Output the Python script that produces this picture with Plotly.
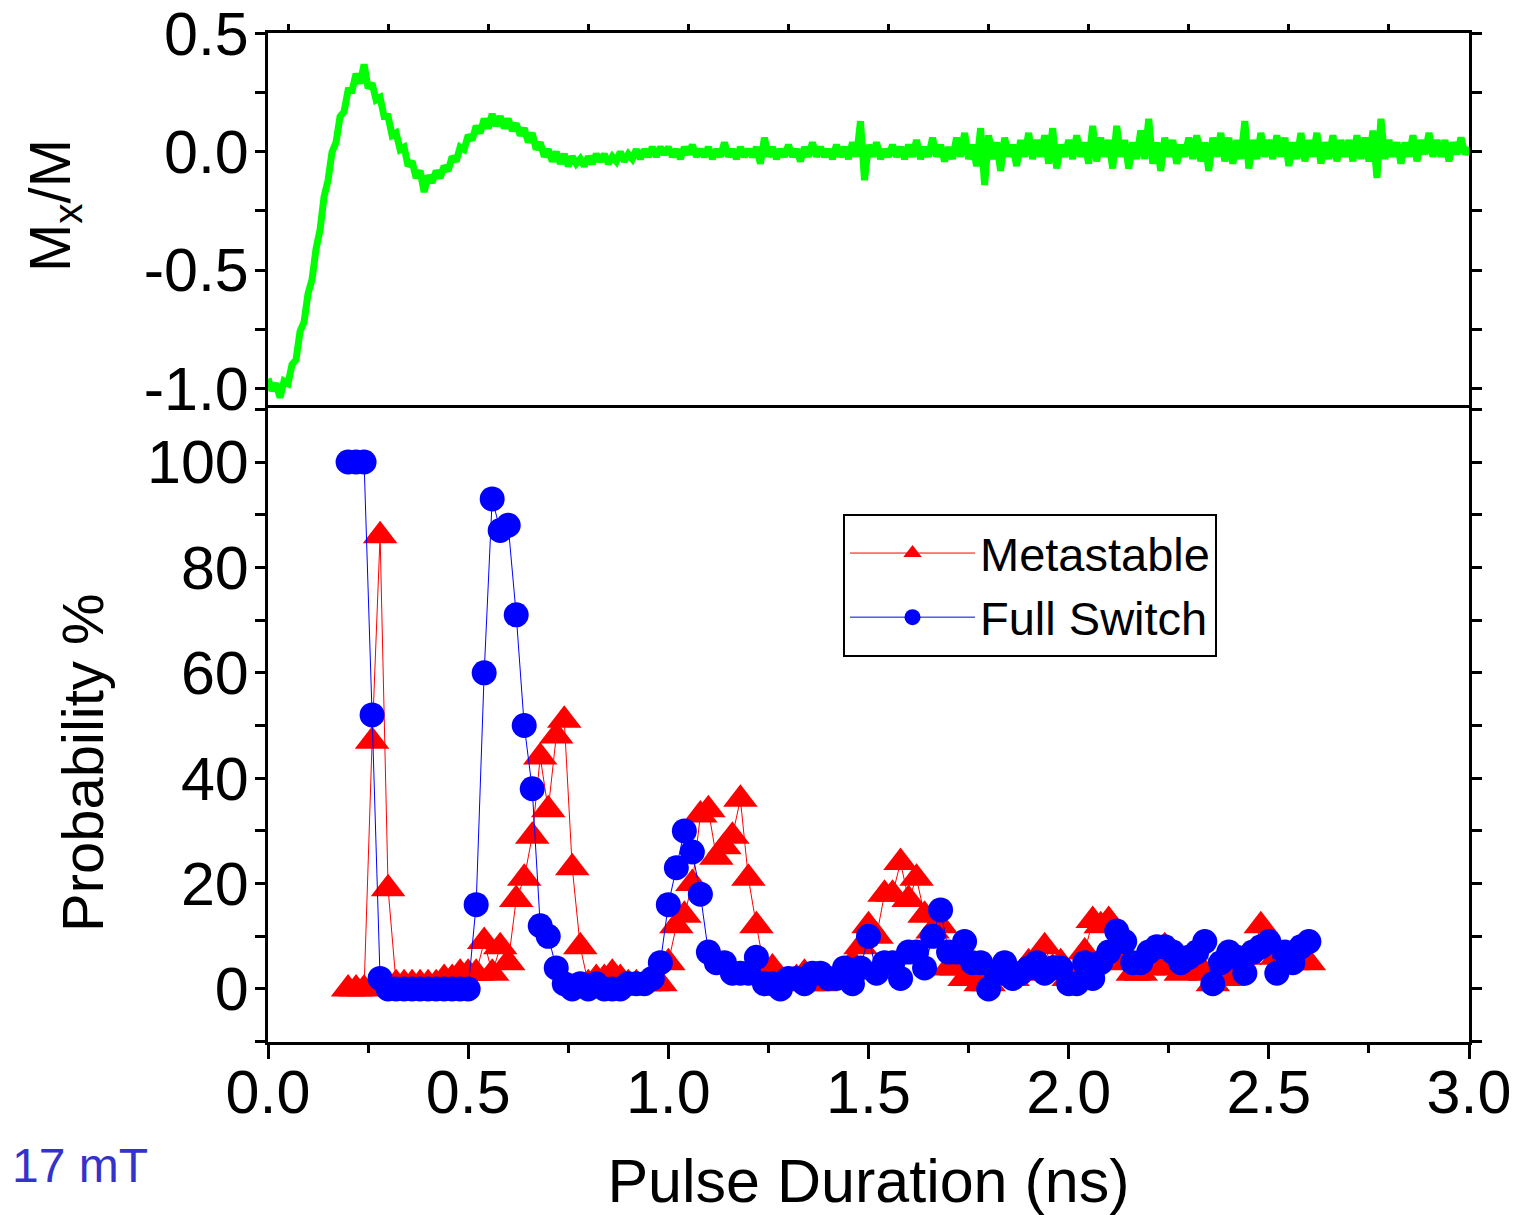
import plotly.graph_objects as go

# ---------------- data ----------------
pulse_ns = [
    0.20, 0.22, 0.24, 0.26, 0.28, 0.30, 0.32, 0.34, 0.36, 0.38,
    0.40, 0.42, 0.44, 0.46, 0.48, 0.50, 0.52, 0.54, 0.56, 0.58,
    0.60, 0.62, 0.64, 0.66, 0.68, 0.70, 0.72, 0.74, 0.76, 0.78,
    0.80, 0.82, 0.84, 0.86, 0.88, 0.90, 0.92, 0.94, 0.96, 0.98,
    1.00, 1.02, 1.04, 1.06, 1.08, 1.10, 1.12, 1.14, 1.16, 1.18,
    1.20, 1.22, 1.24, 1.26, 1.28, 1.30, 1.32, 1.34, 1.36, 1.38,
    1.40, 1.42, 1.44, 1.46, 1.48, 1.50, 1.52, 1.54, 1.56, 1.58,
    1.60, 1.62, 1.64, 1.66, 1.68, 1.70, 1.72, 1.74, 1.76, 1.78,
    1.80, 1.82, 1.84, 1.86, 1.88, 1.90, 1.92, 1.94, 1.96, 1.98,
    2.00, 2.02, 2.04, 2.06, 2.08, 2.10, 2.12, 2.14, 2.16, 2.18,
    2.20, 2.22, 2.24, 2.26, 2.28, 2.30, 2.32, 2.34, 2.36, 2.38,
    2.40, 2.42, 2.44, 2.46, 2.48, 2.50, 2.52, 2.54, 2.56, 2.58,
    2.60,
]

metastable_pct = [
    0, 0, 0, 47, 86, 19, 1, 1, 1, 1,
    1, 1, 2, 2, 3, 3, 3, 9, 3, 8,
    5, 17, 21, 29, 44, 34, 48, 51, 23, 8,
    1, 2, 2, 3, 2, 1, 1, 1, 1, 1,
    5, 12, 14, 20, 33, 34, 25, 27, 29, 36,
    21, 12, 4, 4, 2, 1, 2, 3, 1, 1,
    2, 2, 3, 5, 8, 12, 10, 18, 18, 24,
    17, 21, 14, 11, 12, 4, 4, 2, 2, 1,
    1, 3, 2, 2, 3, 5, 5, 8, 4, 5,
    2, 3, 7, 13, 12, 13, 7, 5, 3, 3,
    4, 5, 8, 4, 3, 4, 5, 3, 1, 2,
    2, 4, 6, 7, 12, 9, 6, 5, 5, 6,
    5,
]

full_switch_pct = [
    100, 100, 100, 52, 2, 0, 0, 0, 0, 0,
    0, 0, 0, 0, 0, 0, 16, 60, 93, 87,
    88, 71, 50, 38, 12, 10, 4, 1, 0, 1,
    0, 1, 0, 0, 0, 1, 1, 1, 2, 5,
    16, 23, 30, 26, 18, 7, 5, 5, 3, 3,
    3, 6, 1, 1, 0, 2, 2, 1, 3, 3,
    2, 2, 4, 1, 4, 10, 3, 5, 5, 2,
    7, 7, 4, 10, 15, 7, 7, 9, 5, 5,
    0, 3, 5, 2, 3, 4, 5, 3, 4, 4,
    1, 1, 5, 2, 5, 7, 11, 9, 5, 5,
    7, 8, 8, 7, 5, 6, 7, 9, 1, 5,
    7, 6, 3, 7, 8, 9, 3, 7, 5, 8,
    9,
]

# simulated Mx/M trace, sampled every 0.01 ns from 0.00 to 3.00 ns
mx_over_m = [
    -0.96, -1.01, -0.98, -1.04, -0.97, -0.98, -0.90, -0.88, -0.76, -0.72,
    -0.60, -0.54, -0.41, -0.33, -0.19, -0.12, 0.00, 0.04, 0.15, 0.17,
    0.26, 0.26, 0.33, 0.29, 0.37, 0.27, 0.29, 0.22, 0.23, 0.15,
    0.15, 0.07, 0.08, 0.01, 0.02, -0.06, -0.04, -0.11, -0.08, -0.17,
    -0.10, -0.13, -0.08, -0.11, -0.06, -0.08, -0.02, -0.04, 0.02, 0.01,
    0.07, 0.05, 0.11, 0.08, 0.14, 0.10, 0.16, 0.11, 0.15, 0.10,
    0.14, 0.09, 0.12, 0.07, 0.10, 0.04, 0.08, 0.01, 0.04, -0.02,
    0.01, -0.04, 0.00, -0.05, -0.01, -0.06, -0.02, -0.05, -0.03, -0.06,
    -0.02, -0.05, -0.01, -0.04, -0.01, -0.05, -0.02, -0.04, 0.00, -0.04,
    -0.01, -0.03, 0.01, -0.03, 0.01, -0.02, 0.02, -0.02, 0.02, -0.01,
    0.02, -0.02, 0.01, -0.03, 0.02, -0.01, 0.03, -0.02, 0.01, -0.02,
    0.02, -0.03, 0.01, -0.02, 0.04, -0.02, 0.01, -0.03, 0.02, -0.02,
    0.01, -0.02, 0.02, -0.05, 0.06, -0.02, 0.02, -0.03, 0.01, -0.02,
    0.03, -0.02, 0.01, -0.04, 0.02, -0.02, 0.04, -0.02, 0.02, -0.02,
    0.01, -0.03, 0.03, -0.02, 0.02, -0.03, 0.04, -0.02, 0.13, -0.12,
    0.03, -0.02, 0.04, -0.03, 0.01, -0.02, 0.03, -0.02, 0.02, -0.03,
    0.03, -0.02, 0.05, -0.03, 0.02, -0.02, 0.06, -0.02, 0.03, -0.04,
    0.02, -0.03, 0.06, -0.02, 0.08, -0.03, 0.03, -0.06, 0.10, -0.14,
    0.07, -0.03, 0.04, -0.08, 0.06, -0.02, 0.03, -0.06, 0.05, -0.02,
    0.08, -0.03, 0.05, -0.02, 0.07, -0.05, 0.10, -0.07, 0.03, -0.02,
    0.05, -0.03, 0.07, -0.02, 0.04, -0.05, 0.11, -0.04, 0.06, -0.02,
    0.05, -0.07, 0.11, -0.02, 0.05, -0.07, 0.04, -0.03, 0.09, -0.03,
    0.14, -0.05, 0.04, -0.08, 0.06, -0.02, 0.05, -0.05, 0.03, -0.02,
    0.06, -0.03, 0.07, -0.04, 0.04, -0.08, 0.06, -0.02, 0.08, -0.04,
    0.06, -0.05, 0.05, -0.03, 0.13, -0.07, 0.05, -0.03, 0.08, -0.02,
    0.05, -0.03, 0.07, -0.02, 0.06, -0.06, 0.04, -0.03, 0.08, -0.04,
    0.05, -0.02, 0.08, -0.05, 0.04, -0.03, 0.07, -0.04, 0.05, -0.02,
    0.05, -0.04, 0.07, -0.03, 0.06, -0.04, 0.09, -0.11, 0.14, -0.03,
    0.05, -0.02, 0.04, -0.05, 0.04, -0.02, 0.07, -0.04, 0.05, -0.01,
    0.08, -0.02, 0.05, -0.02, 0.05, -0.04, 0.04, -0.01, 0.06, -0.01,
    0.02,
]
sim_time_ns = [i / 100 for i in range(len(mx_over_m))]

top_y_ticks = [-1.0, -0.5, 0.0, 0.5]
top_y_labels = ["-1.0", "-0.5", "0.0", "0.5"]
bottom_x_ticks = [0.0, 0.5, 1.0, 1.5, 2.0, 2.5, 3.0]
bottom_x_labels = ["0.0", "0.5", "1.0", "1.5", "2.0", "2.5", "3.0"]
bottom_y_ticks = [0, 20, 40, 60, 80, 100]
bottom_y_labels = ["0", "20", "40", "60", "80", "100"]

FONT = "Liberation Sans, Arial, Helvetica, sans-serif"

# ---------------- figure ----------------
fig = go.Figure()

fig.add_trace(go.Scatter(
    x=sim_time_ns, y=mx_over_m, mode="lines",
    line=dict(color="#00ff00", width=7),
    xaxis="x2", yaxis="y2", showlegend=False, name="Mx/M",
))
fig.add_trace(go.Scatter(
    x=pulse_ns, y=metastable_pct, mode="lines+markers", name="Metastable",
    line=dict(color="#ff0000", width=1),
    marker=dict(symbol="triangle-up", size=30, color="#ff0000"),
))
fig.add_trace(go.Scatter(
    x=pulse_ns, y=full_switch_pct, mode="lines+markers", name="Full Switch",
    line=dict(color="#0000ff", width=1),
    marker=dict(symbol="circle", size=25, color="#0000ff"),
))

L, R, T, B = 268, 49, 33, 173
PW, PH = 1518 - L - R, 1215 - T - B
SPLIT = (1042 - 408) / PH


def px_x(p):
    return (p - L) / PW


def px_y(p):
    return (T + PH - p) / PH


common = dict(
    showline=True, linecolor="black", linewidth=3,
    ticks="outside", tickcolor="black", tickwidth=3,
    showgrid=False, zeroline=False,
    tickfont=dict(family=FONT, size=61, color="black"),
)

fig.update_layout(
    width=1518, height=1215,
    margin=dict(l=L, r=R, t=T, b=B, autoexpand=False),
    paper_bgcolor="white", plot_bgcolor="white",
    font=dict(family=FONT, color="black"),
    xaxis=dict(
        common, domain=[0, 1], range=[0, 3], anchor="y",
        tickmode="array", tickvals=bottom_x_ticks, ticktext=bottom_x_labels,
        ticklen=14, mirror=True, ticklabelstandoff=-19,
        minor=dict(tick0=0, dtick=0.25, ticklen=8, tickwidth=3,
                   tickcolor="black", ticks="outside"),
        title=dict(text="Pulse Duration (ns)",
                   font=dict(family=FONT, size=61, color="black"),
                   standoff=50),
    ),
    yaxis=dict(
        common, domain=[0, SPLIT], range=[-10.06, 110.25], anchor="x",
        tickmode="array", tickvals=bottom_y_ticks, ticktext=bottom_y_labels,
        ticklen=10, mirror="ticks", ticklabelstandoff=-6,
        minor=dict(tick0=0, dtick=10, ticklen=10, tickwidth=3,
                   tickcolor="black", ticks="outside"),
    ),
    xaxis2=dict(
        common, domain=[0, 1], range=[0, 3], anchor="y2", side="top",
        tick0=0.05, dtick=0.25, ticklen=6, showticklabels=False, mirror=False,
    ),
    yaxis2=dict(
        common, domain=[SPLIT, 1], range=[-1.084, 0.503], anchor="x2",
        tickmode="array", tickvals=top_y_ticks, ticktext=top_y_labels,
        ticklen=10, mirror="ticks", ticklabelstandoff=-6,
        minor=dict(tick0=0, dtick=0.25, ticklen=10, tickwidth=3,
                   tickcolor="black", ticks="outside"),
    ),
    legend=dict(
        x=px_x(843), y=px_y(514), xanchor="left", yanchor="top",
        bgcolor="white", bordercolor="black", borderwidth=2,
        font=dict(family=FONT, size=47, color="black"),
        itemwidth=125,
    ),
    annotations=[
        dict(text="Probability %", xref="paper", yref="paper",
             x=px_x(82), y=px_y(763), xanchor="center", yanchor="middle",
             textangle=-90, showarrow=False,
             font=dict(family=FONT, size=58, color="black")),
        dict(text="M<sub>x</sub>/M", xref="paper", yref="paper",
             x=px_x(54), y=px_y(206), xanchor="center", yanchor="middle",
             textangle=-90, showarrow=False,
             font=dict(family=FONT, size=58, color="black")),
        dict(text="17 mT", xref="paper", yref="paper",
             x=px_x(10), y=px_y(1165), xanchor="left", yanchor="middle",
             showarrow=False,
             font=dict(family=FONT, size=48, color="rgb(51,51,204)")),
    ],
)

fig.write_html(
    "out.html",
    config={"displayModeBar": False},
    post_script="document.body.style.margin='0';document.body.style.overflow='hidden';",
)
